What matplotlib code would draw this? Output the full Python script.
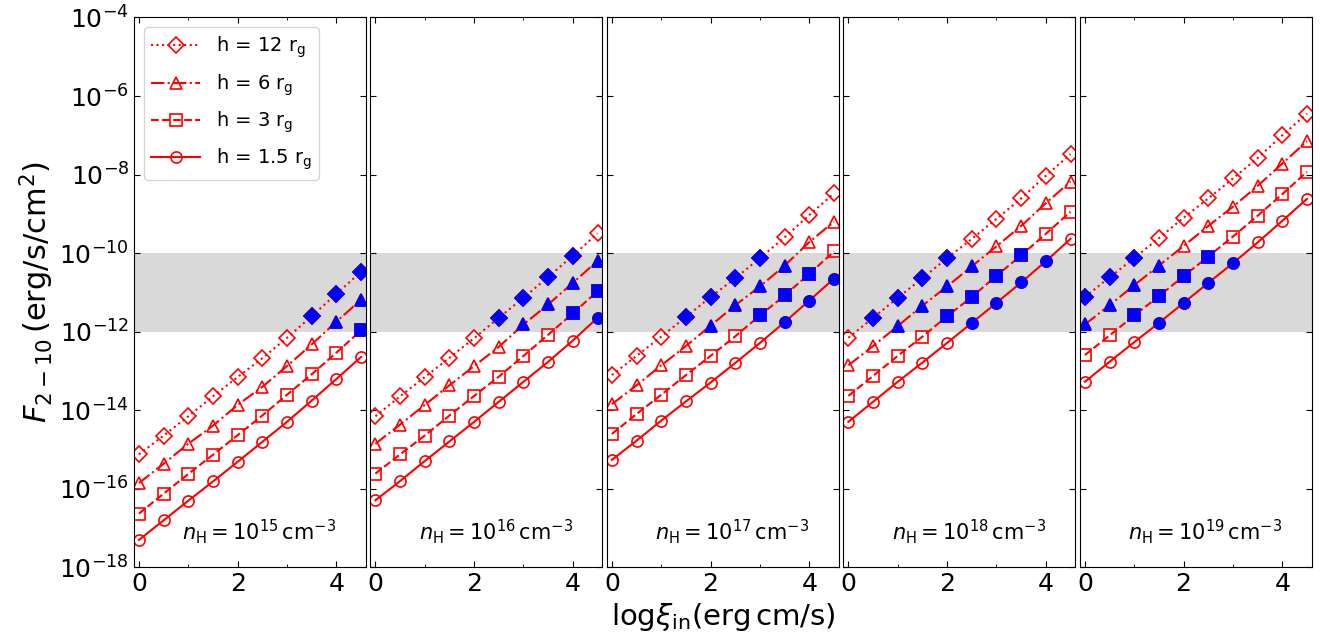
import numpy as np
import matplotlib
matplotlib.use("Agg")
import matplotlib.pyplot as plt

## data (log10 of F_2-10) -------------------------------------------

log_xi = [0, 0.5, 1, 1.5, 2, 2.5, 3, 3.5, 4, 4.5]

heights = ["12", "6", "3", "1.5"]
densities = ["15", "16", "17", "18", "19"]

# rows: h = 12, 6, 3, 1.5 r_g
logF_n15 = [
    [-15.13, -14.65, -14.16, -13.65, -13.16, -12.68, -12.16, -11.61, -11.04, -10.48],
    [-15.86, -15.37, -14.86, -14.40, -13.87, -13.41, -12.88, -12.33, -11.75, -11.19],
    [-16.64, -16.13, -15.63, -15.14, -14.64, -14.14, -13.61, -13.09, -12.54, -11.97],
    [-17.31, -16.81, -16.31, -15.82, -15.32, -14.81, -14.30, -13.76, -13.21, -12.65],
]
logF_n16 = [
    [-14.16, -13.65, -13.16, -12.67, -12.17, -11.65, -11.14, -10.61, -10.07, -9.50],
    [-14.86, -14.37, -13.87, -13.37, -12.88, -12.39, -11.82, -11.31, -10.76, -10.20],
    [-15.62, -15.13, -14.65, -14.14, -13.64, -13.15, -12.62, -12.08, -11.54, -10.97],
    [-16.30, -15.81, -15.30, -14.80, -14.30, -13.79, -13.28, -12.77, -12.23, -11.65],
]
logF_n17 = [
    [-13.11, -12.62, -12.13, -11.63, -11.12, -10.64, -10.13, -9.60, -9.03, -8.48],
    [-13.85, -13.37, -12.86, -12.37, -11.85, -11.33, -10.85, -10.32, -9.72, -9.20],
    [-14.61, -14.10, -13.61, -13.11, -12.62, -12.12, -11.59, -11.08, -10.53, -9.96],
    [-15.27, -14.78, -14.27, -13.78, -13.30, -12.80, -12.29, -11.76, -11.21, -10.65],
]
logF_n18 = [
    [-12.16, -11.65, -11.14, -10.64, -10.13, -9.64, -9.13, -8.61, -8.03, -7.48],
    [-12.86, -12.37, -11.86, -11.34, -10.85, -10.34, -9.83, -9.31, -8.73, -8.18],
    [-13.64, -13.13, -12.62, -12.13, -11.61, -11.12, -10.58, -10.06, -9.51, -8.95],
    [-14.30, -13.79, -13.28, -12.79, -12.29, -11.78, -11.27, -10.75, -10.21, -9.64],
]
logF_n19 = [
    [-11.12, -10.62, -10.13, -9.62, -9.10, -8.61, -8.10, -7.58, -7.00, -6.45],
    [-11.82, -11.33, -10.82, -10.32, -9.82, -9.31, -8.82, -8.29, -7.72, -7.15],
    [-12.60, -12.10, -11.59, -11.10, -10.59, -10.09, -9.58, -9.05, -8.50, -7.93],
    [-13.28, -12.77, -12.27, -11.78, -11.27, -10.76, -10.26, -9.73, -9.18, -8.62],
]

panels = [logF_n15, logF_n16, logF_n17, logF_n18, logF_n19]

band_lo, band_hi = 1e-12, 1e-10

## style ------------------------------------------------------------

markers = ["D", "^", "s", "o"]
linestyles = [":", "-.", "--", "-"]

fig, axes = plt.subplots(1, 5, sharey=True, figsize=(13.2, 6.41), dpi=100)
fig.subplots_adjust(left=0.1015, right=0.9939, top=0.9727, bottom=0.1154, wspace=0.0194)

x = np.array(log_xi)

for ax, logF, dens in zip(axes, panels, densities):
    ax.axhspan(band_lo, band_hi, color="#d9d9d9", lw=0, zorder=0)
    for vals, h, mk, ls in zip(logF, heights, markers, linestyles):
        F = np.power(10.0, vals)
        ax.plot(x, F, ls=ls, color="red", lw=1.5, marker=mk, ms=8,
                mfc="none", mec="red", mew=1.2, label=f"h = {h} " + r"r$_{\rm g}$")
        inband = (F >= band_lo) & (F <= band_hi)
        ax.plot(x[inband], F[inband], ls="none", marker=mk, ms=8,
                color="blue", mec="blue", mew=1.2)

    ax.set_yscale("log")
    ax.set_ylim(1e-18, 1e-4)
    ax.set_xlim(-0.1, 4.6)
    ax.set_yticks([10.0 ** p for p in range(-18, -3, 2)])
    ax.yaxis.set_minor_locator(matplotlib.ticker.NullLocator())
    ax.set_xticks([0, 2, 4])
    ax.set_xticks([1, 3], minor=True)
    ax.tick_params(which="both", direction="in", top=True, right=True, labelsize=18)
    ax.tick_params(which="major", length=4)
    ax.tick_params(which="minor", length=2)
    ax.text(0.54, 0.065, r"$n_{\rm H} = 10^{%s}\,{\rm cm^{-3}}$" % dens,
            transform=ax.transAxes, ha="center", va="center", fontsize=15)

axes[0].set_ylabel(r"$F_{2-10}\,(\rm erg/s/cm^2)$", fontsize=22, labelpad=2)
axes[0].legend(loc="upper left", fontsize=14, handlelength=2.5, labelspacing=0.6)
axes[2].set_xlabel(r"$\mathrm{log}\xi_{\rm in}(\rm erg\,cm/s)$", fontsize=21, labelpad=4)

fig.savefig("out.png", dpi=100)
